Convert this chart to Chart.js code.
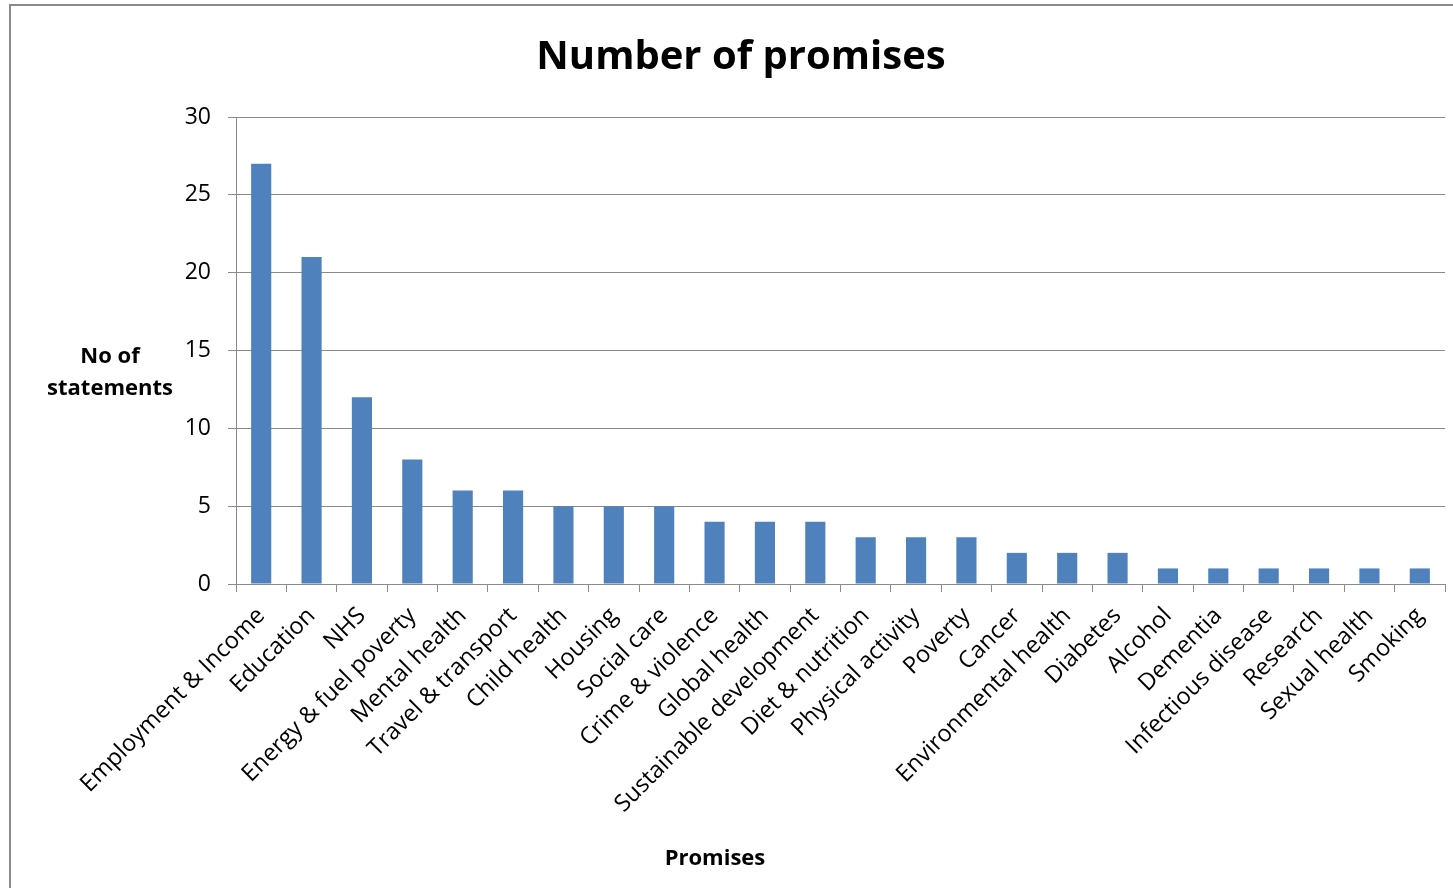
<!DOCTYPE html>
<html>
<head>
<meta charset="utf-8">
<script src="https://cdn.jsdelivr.net/npm/chart.js@4/dist/chart.umd.min.js"></script>
<style>
  html, body { margin: 0; padding: 0; background: #fff; }
  #wrap { position: relative; width: 1453px; height: 888px; }
</style>
</head>
<body>
<div id="wrap"><canvas id="barChart"></canvas></div>
<script>
// categories and values
const promiseLabels = [
  'Employment & Income', 'Education', 'NHS', 'Energy & fuel poverty',
  'Mental health', 'Travel & transport', 'Child health', 'Housing',
  'Social care', 'Crime & violence', 'Global health', 'Sustainable development',
  'Diet & nutrition', 'Physical activity', 'Poverty', 'Cancer',
  'Environmental health', 'Diabetes', 'Alcohol', 'Dementia',
  'Infectious disease', 'Research', 'Sexual health', 'Smoking'
];
const promiseCounts = [27, 21, 12, 8, 6, 6, 5, 5, 5, 4, 4, 4, 3, 3, 3, 2, 2, 2, 1, 1, 1, 1, 1, 1];
const yTicks = [0, 5, 10, 15, 20, 25, 30];

const chartTitle = 'Number of promises';
const yTitle = ['No of', 'statements'];
const xTitle = 'Promises';

const FONT = "'Open Sans', 'Liberation Sans', sans-serif";
const GRID = '#8a8a8a';

// titles + outer frame, drawn by hand so they sit where Excel put them
const textPlugin = {
  id: 'textPlugin',
  beforeDraw(chart) {
    const c = chart.ctx;
    c.save();
    c.strokeStyle = GRID;
    c.lineWidth = 2;
    c.beginPath();
    c.moveTo(10, 900);
    c.lineTo(10, 5);
    c.lineTo(1470, 5);
    c.stroke();
    c.restore();
  },
  afterDraw(chart) {
    const c = chart.ctx;
    c.save();
    c.fillStyle = '#000';
    c.textAlign = 'center';
    c.textBaseline = 'middle';
    c.font = 'bold 40px ' + FONT;
    c.fillText(chartTitle, 741, 58);
    c.font = 'bold 22px ' + FONT;
    c.fillText(yTitle[0], 110, 357);
    c.fillText(yTitle[1], 110, 389);
    c.fillText(xTitle, 715, 859);
    c.restore();
  }
};

const data1 = {
  labels: promiseLabels,
  datasets: [{
    label: 'Number of promises',
    data: promiseCounts,
    backgroundColor: '#4f81bd',
    borderWidth: 0,
    barPercentage: 0.4,
    categoryPercentage: 1.0
  }]
};

const config1 = {
  type: 'bar',
  data: data1,
  options: {
    responsive: false,
    animation: false,
    layout: { padding: { top: 117, right: 8, bottom: 0, left: 0 } },
    plugins: {
      legend: { display: false },
      title: { display: false },
      tooltip: { enabled: false }
    },
    scales: {
      x: {
        grid: { display: true, drawOnChartArea: false, drawTicks: true, tickLength: 8, color: GRID, offset: true },
        border: { display: true, color: GRID, width: 1 },
        ticks: {
          color: '#000',
          font: { family: FONT, size: 23.5 },
          minRotation: 45,
          maxRotation: 45,
          autoSkip: false,
          padding: 10
        },
        afterFit(scale) { scale.height = 304; }
      },
      y: {
        min: 0,
        max: 30,
        afterBuildTicks(scale) { scale.ticks = yTicks.map(v => ({ value: v })); },
        grid: { color: GRID, lineWidth: 1, tickLength: 8 },
        border: { display: true, color: GRID, width: 1 },
        ticks: {
          color: '#000',
          font: { family: FONT, size: 23 },
          padding: 17
        },
        afterFit(scale) { scale.width = 236; }
      }
    }
  },
  plugins: [textPlugin]
};

const canvas = document.getElementById('barChart');
canvas.width = 1453;
canvas.height = 888;
var ctx1 = canvas.getContext('2d');
var myChart1 = new Chart(ctx1, config1);
</script>
</body>
</html>
